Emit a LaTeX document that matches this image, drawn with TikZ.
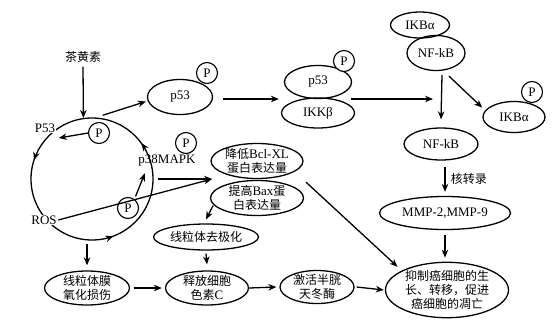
\documentclass[tikz,border=0pt]{standalone}
\usepackage{fontspec}
\setmainfont{Liberation Serif}
\newfontfamily\cjk{Noto Sans CJK SC}
\usetikzlibrary{arrows.meta,shapes.geometric,decorations.markings}
\newcommand\myzh[1]{{\cjk\fontsize{12pt}{14pt}\selectfont #1}}
\begin{document}
\begin{tikzpicture}[x=1pt,y=-1pt,
  line width=1.3pt,
  >={Stealth[length=8pt,width=6.5pt]},
  every node/.style={font=\fontsize{13pt}{14pt}\selectfont},
  ell/.style={draw, ellipse, inner sep=0pt, align=center},
  pc/.style={draw, circle, minimum size=21pt, inner sep=0pt, line width=1.1pt},
  lbl/.style={fill=white, inner sep=1pt},
  cyclearrows/.style={postaction={decorate}, decoration={markings,
    mark=at position 0.1 with {\arrow{>}},
    mark=at position 0.45 with {\arrow{>}},
    mark=at position 0.807 with {\arrow{>}}}}]
\useasboundingbox (0,0) rectangle (554,327);

% left cycle
\node (tea) at (83,57) {\myzh{茶黄素}};
\node[circle, minimum size=122pt, inner sep=0pt] (cyc) at (92,179) {};
\draw[cyclearrows] (cyc.center) circle (61pt);
\node[lbl] (p53l) at (45,128) {P53};
\node[lbl] (ros) at (44,220) {ROS};
\node[pc] (tP) at (99,133) {P};
\node[pc] (bP) at (128,208) {P};
\node[inner sep=1pt] (p38) at (167,161) {p38MAPK};
\node[pc] (mP) at (186,143) {P};

% p53 branch
\node[ell, minimum width=65pt, minimum height=35pt] (p53a) at (180,97) {p53};
\node[pc, fill=white] (p53aP) at (207,73) {P};
\node[ell, minimum width=67pt, minimum height=33pt] (p53b) at (318,82) {p53};
\node[ell, minimum width=73pt, minimum height=30pt] (ikk) at (318,113) {IKKβ};
\node[pc, fill=white] (p53bP) at (344,61) {P};
\node[ell, minimum width=59pt, minimum height=26pt] (ikba1) at (420,25) {IKBα};
\node[ell, minimum width=58pt, minimum height=35pt] (nfkb1) at (436,53) {NF-kB};
\node[ell, minimum width=62pt, minimum height=31pt] (ikba2) at (514,117) {IKBα};
\node[pc, fill=white] (ikba2P) at (532,92) {P};
\node[ell, minimum width=74pt, minimum height=32pt] (nfkb2) at (441,144) {NF-kB};
\node[ell, minimum width=131pt, minimum height=33pt] (mmp) at (445,213) {MMP-2,MMP-9};
\node[ell, minimum width=123pt, minimum height=55pt] (yz) at (447,290)
  {\myzh{抑制癌细胞的生}\\\myzh{长、转移，促进}\\\myzh{癌细胞的凋亡}};

% mitochondria branch
\node[ell, inner ysep=-2pt, minimum width=92pt, minimum height=35pt] (bcl) at (257,161) {\myzh{降低}Bcl-XL\\\myzh{蛋白表达量}};
\node[ell, inner ysep=-2pt, minimum width=93pt, minimum height=35pt] (bax) at (257,198) {\myzh{提高}Bax\myzh{蛋}\\\myzh{白表达量}};
\node[ell, minimum width=105pt, minimum height=26pt] (qjh) at (206,237) {\myzh{线粒体去极化}};
\node[ell, inner ysep=-2pt, minimum width=85pt, minimum height=34pt] (xlm) at (87,288) {\myzh{线粒体膜}\\\myzh{氧化损伤}};
\node[ell, inner ysep=-2pt, minimum width=83pt, minimum height=34pt] (sf) at (207,288) {\myzh{释放细胞}\\\myzh{色素}C};
\node[ell, inner ysep=-2pt, minimum width=74pt, minimum height=33pt] (jh) at (317,287) {\myzh{激活半胱}\\\myzh{天冬酶}};

\coordinate (tA) at (212,179);
\coordinate (j1) at (351,99);
\coordinate (j2) at (433,99);

% connectors
\draw[->] (tea.south) -- (cyc.98);
\draw[->] (tP.west) -- ([shift={(2pt,-10pt)}]p53l.east);
\draw[->] ([shift={(2pt,2pt)}]bP.60) -- ([shift={(8pt,-5pt)}]p38.south west);
\draw[->] (ros.east) -- (tA);
\draw[->] ([xshift=4pt]cyc.east) -- (tA);
\draw[->] ([yshift=3pt]cyc.80) -- ([xshift=-2pt]p53a.188);
\draw[->] ([shift={(10pt,-2pt)}]p53a.east) -- ([shift={(-2pt,-2pt)}]p53a.east -| ikk.west);
\draw[->] (j1) -- (j2);
\draw[->] ([shift={(6pt,-4pt)}]nfkb1.south) -- ([yshift=8pt]nfkb2.north);
\draw[->] ([shift={(13pt,-5pt)}]nfkb1.south) -- ([xshift=-6pt]ikba2.160);
\draw[->] ([yshift=-6pt]nfkb2.south -| mmp.north) -- ([yshift=4pt]mmp.north)
  node[midway, right, xshift=2pt] (hzl) {\myzh{核转录}};
\draw[->] ([yshift=-5pt]mmp.south -| mmp.north) -- ([yshift=4pt]yz.north -| mmp.north);
\draw[->] ([shift={(49pt,-3pt)}]bcl.south) -- ([shift={(-6pt,3pt)}]yz.155);
\draw[->] ([xshift=-1pt]bax.190) -- ([yshift=4pt]qjh.north);
\draw[->] ([yshift=-3pt]qjh.south) -- ([yshift=6pt]sf.north);
\draw[->] ([yshift=-3pt]cyc.south -| xlm.north) -- ([yshift=5pt]xlm.north);
\draw[->] ([xshift=3.5pt]xlm.east) -- ([xshift=-3pt]sf.west);
\draw[->] (sf.east) -- ([xshift=-3pt]jh.west);
\draw[->] ([xshift=2pt]jh.east) -- ([xshift=-1pt]yz.west);
\end{tikzpicture}
\end{document}
